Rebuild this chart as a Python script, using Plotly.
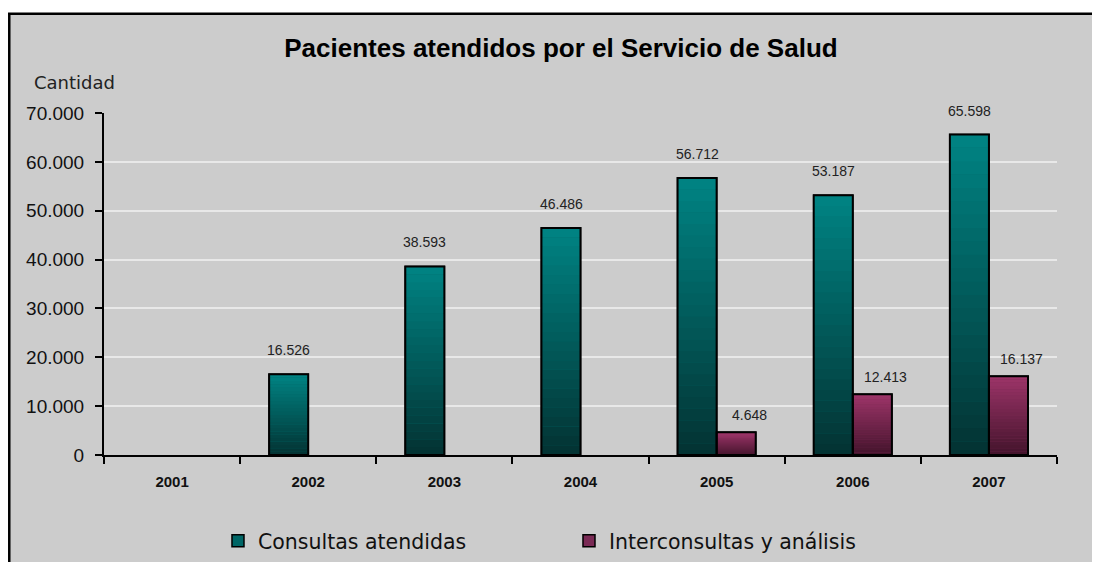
import plotly.graph_objects as go

years = ["2001", "2002", "2003", "2004", "2005", "2006", "2007"]
consultas = [None, 16526, 38593, 46486, 56712, 53187, 65598]
interconsultas = [None, None, None, None, 4648, 12413, 16137]
y_ticks = [0, 10000, 20000, 30000, 40000, 50000, 60000, 70000]
series_names = ["Consultas atendidas", "Interconsultas y análisis"]

BAR_W = 0.287
N_SEG = 24
series = [
    dict(name=series_names[0], values=consultas, offset=-BAR_W,
         top=(0, 130, 130), bottom=(3, 52, 52), mid="#006666",
         xshift=-19.5, yshift=24),
    dict(name=series_names[1], values=interconsultas, offset=0.0,
         top=(156, 52, 104), bottom=(68, 20, 44), mid="#7a2a55",
         xshift=33, yshift=17),
]

fig = go.Figure()

# legend / base traces
for s in series:
    fig.add_trace(go.Bar(
        x=years, y=s["values"], name=s["name"], width=BAR_W, offset=s["offset"],
        marker=dict(color=s["mid"], line=dict(color="black", width=1.5)),
        hoverinfo="skip",
    ))

# gradient segments
for s in series:
    for k in range(N_SEG):
        f = k / (N_SEG - 1)  # 0 bottom -> 1 top
        c = tuple(round(s["bottom"][i] + (s["top"][i] - s["bottom"][i]) * f) for i in range(3))
        base = [None if v is None else v * k / N_SEG for v in s["values"]]
        h = [None if v is None else v / N_SEG * 1.02 for v in s["values"]]
        fig.add_trace(go.Bar(
            x=years, y=h, base=base, width=BAR_W, offset=s["offset"],
            marker=dict(color="rgb(%d,%d,%d)" % c, line=dict(width=0)),
            showlegend=False, hoverinfo="skip",
        ))

# outlines
for s in series:
    fig.add_trace(go.Bar(
        x=years, y=s["values"], width=BAR_W, offset=s["offset"],
        marker=dict(color="rgba(0,0,0,0)", line=dict(color="black", width=2)),
        showlegend=False, hoverinfo="skip",
    ))

annotations = []
for s in series:
    for i, v in enumerate(s["values"]):
        if v is None:
            continue
        annotations.append(dict(
            x=i, y=v, xref="x", yref="y", showarrow=False,
            text=f"{v:,}".replace(",", "."),
            xshift=s["xshift"], yshift=s["yshift"], yanchor="middle",
            font=dict(family="Liberation Sans, Arial", size=14, color="#222222"),
        ))

annotations.append(dict(
    x=-0.0756, y=1.088, xref="paper", yref="paper", showarrow=False,
    text="Cantidad", xanchor="left", yanchor="middle",
    font=dict(family="DejaVu Sans", size=18, color="#222222"),
))

fig.update_layout(
    width=1100, height=562,
    margin=dict(l=96, r=51, t=105, b=115),
    paper_bgcolor="white",
    plot_bgcolor="#cccccc",
    barmode="overlay",
    separators=",.",
    title=dict(
        text="<b>Pacientes atendidos por el Servicio de Salud</b>",
        x=0.4795, xref="paper", y=0.929, yref="container", xanchor="center", yanchor="middle",
        font=dict(family="Liberation Sans, Arial", size=26, color="black"),
    ),
    xaxis=dict(
        type="category", categoryorder="array", categoryarray=years,
        range=[-0.5, len(years) - 0.5], autorange=False,
        showline=True, linecolor="black", linewidth=2,
        ticks="outside", tickson="boundaries", ticklen=7, tickcolor="black", tickwidth=2,
        showgrid=False, ticklabelstandoff=12, tickangle=0,
        tickfont=dict(family="Liberation Sans, Arial", size=15, color="#111111", weight="bold"),
    ),
    yaxis=dict(
        range=[0, 70000], autorange=False, tickvals=y_ticks, tickformat=",d",
        showline=True, linecolor="black", linewidth=2,
        ticks="outside", ticklen=7, tickcolor="black", tickwidth=2,
        showgrid=True, gridcolor="#e8e8e8", gridwidth=1.5, zeroline=False,
        ticklabelstandoff=7,
        tickfont=dict(family="Liberation Sans, Arial", size=19, color="#111111"),
    ),
    legend=dict(
        orientation="h", xref="container", yref="container",
        x=0.1909, y=0.0516, xanchor="left", yanchor="middle",
        entrywidth=306, itemwidth=30, bgcolor="rgba(0,0,0,0)",
        font=dict(family="DejaVu Sans", size=20.5, color="#111111"),
        traceorder="normal",
    ),
    annotations=annotations,
    shapes=[dict(
        type="rect", xref="paper", yref="paper",
        x0=-0.0994, x1=1.2, y0=-0.5, y1=1.2902,
        fillcolor="#cccccc", line=dict(color="black", width=2.5), layer="below",
    )],
)

fig.write_html("out.html")
